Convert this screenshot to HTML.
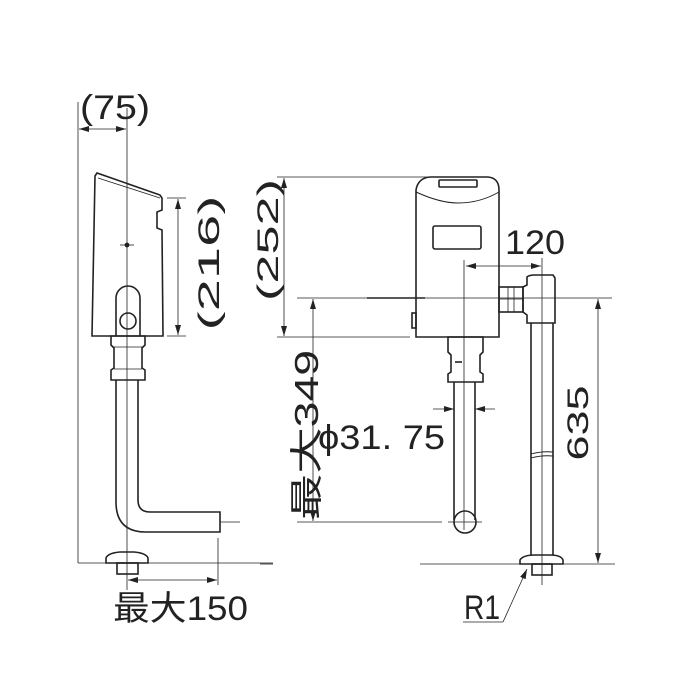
<!DOCTYPE html>
<html><head><meta charset="utf-8"><style>
html,body{margin:0;padding:0;background:#fff}
svg{display:block}
text{font-family:"Liberation Sans","Noto Sans CJK JP",sans-serif;fill:#222}
</style></head><body>
<svg width="700" height="700" viewBox="0 0 700 700" xmlns="http://www.w3.org/2000/svg">
<defs>
<marker id="a" viewBox="0 0 10 6" refX="10" refY="3" markerWidth="10" markerHeight="6" orient="auto-start-reverse" markerUnits="userSpaceOnUse"><path d="M0,0L10,3L0,6z" fill="#222"/></marker>
</defs>
<g stroke="#222" fill="none" stroke-width="0.8">
<line x1="78" y1="102" x2="78" y2="563"/>
<line x1="78" y1="563" x2="273" y2="563"/>
<line x1="127" y1="108" x2="127" y2="590"/>
<line x1="79" y1="129" x2="126" y2="129" marker-start="url(#a)" marker-end="url(#a)"/>
<g stroke-width="1.6">
<path d="M95,176 L97,173 L160,195 L162,198 L162,210 L157,212 L157,228 L162,230 L163,336 L92,336 Z"/>
<path d="M98,178 L160,198" stroke-width="0.8"/>
<path d="M116,336 L116,298 A12,12 0 0 1 140,298 L140,336"/>
<circle cx="128" cy="321" r="8"/>
<path d="M111,336 L145,336 L145,345 L142,348 L142,368 L145,370 L145,380 L111,380 L111,370 L114,368 L114,348 L111,345 Z"/>
<path d="M116,380 L116,502 Q116,532 146,532 L220,532 L220,512 L150,512 Q138,512 138,500 L138,380"/>
<path d="M106,563 L106,558 Q108,553 120,552 L134,552 Q146,553 148,558 L148,563 Z"/>
<rect x="117" y="563" width="21" height="11"/>
</g>
<line x1="114" y1="347" x2="142" y2="347"/>
<line x1="114" y1="369" x2="142" y2="369"/>
<circle cx="127" cy="245" r="2" fill="#222"/>
<line x1="120" y1="245" x2="134" y2="245"/>
<line x1="220" y1="522" x2="240" y2="522"/>
<line x1="167" y1="198" x2="186" y2="198"/>
<line x1="167" y1="336" x2="186" y2="336"/>
<line x1="178" y1="199" x2="178" y2="335" marker-start="url(#a)" marker-end="url(#a)"/>
<line x1="218" y1="538" x2="218" y2="585"/>
<line x1="128" y1="580" x2="217" y2="580" marker-start="url(#a)" marker-end="url(#a)"/>

<line x1="277" y1="177" x2="432" y2="177"/>
<line x1="277" y1="337" x2="410" y2="337"/>
<line x1="284" y1="178" x2="284" y2="336" marker-start="url(#a)" marker-end="url(#a)"/>
<line x1="297" y1="298" x2="612" y2="298"/>
<line x1="367" y1="298" x2="425" y2="298" stroke-width="1.6"/>
<line x1="313" y1="299" x2="313" y2="521" marker-start="url(#a)" marker-end="url(#a)"/>
<line x1="297" y1="522" x2="442" y2="522"/>
<line x1="448" y1="522" x2="482" y2="522"/>
<line x1="464" y1="260" x2="464" y2="530"/>
<line x1="542" y1="258" x2="542" y2="585"/>
<line x1="466" y1="266" x2="541" y2="266" marker-start="url(#a)" marker-end="url(#a)"/>
<line x1="433" y1="409" x2="454" y2="409" marker-end="url(#a)"/>
<line x1="495" y1="409" x2="475" y2="409" marker-end="url(#a)"/>
<line x1="598" y1="299" x2="598" y2="563" marker-start="url(#a)" marker-end="url(#a)"/>
<line x1="420" y1="564" x2="615" y2="564"/>
<line x1="260" y1="564" x2="273" y2="564"/>
<line x1="503" y1="622" x2="527" y2="569" marker-end="url(#a)"/>
<line x1="463" y1="622" x2="503" y2="622"/>
<g stroke-width="1.6">
<path d="M416,337 L416,190 Q418,178 430,177 L488,177 Q499,178 499,190 L499,337 Z"/>
<path d="M416,192 Q440,203 458,203 Q480,203 499,192" stroke-width="1"/>
<rect x="439" y="180" width="38" height="7" rx="1"/>
<rect x="433" y="226" width="48" height="23" rx="2"/>
<rect x="412" y="313" width="4" height="15"/>
<path d="M448,337 L483,337 L483,352 L480,355 L480,372 L483,374 L483,382 L448,382 L448,374 L451,372 L451,355 L448,352 Z"/>
<path d="M454,382 L454,520 M475,382 L475,520"/>
<circle cx="465" cy="522" r="11"/>
<rect x="499" y="287" width="24" height="25"/>
<path d="M527,285 L527,277 Q529,275 535,275 L553,275 L555,278 L555,323 L527,323 L527,315 L523,312 L523,287 Z"/>
<path d="M531,323 L531,555 M553,323 L553,555"/>
<path d="M520,564 L520,560 Q523,555 535,555 L550,555 Q561,555 563,560 L563,564 Z"/>
<rect x="532" y="564" width="20" height="11"/>
</g>
<path d="M531,454 Q542,451 553,452 M531,458 Q542,455 553,456" stroke-width="0.9"/>
<line x1="455" y1="362" x2="462" y2="362" stroke-width="1.6"/>
<line x1="508" y1="287" x2="508" y2="312"/>
<line x1="514" y1="287" x2="514" y2="312"/>
<line x1="499" y1="299" x2="523" y2="299"/>
</g>
<g font-size="34">
<text x="80" y="119" textLength="70" lengthAdjust="spacingAndGlyphs">(75)</text>
<text transform="translate(219,263) rotate(-90)" font-size="30" text-anchor="middle" textLength="135" lengthAdjust="spacingAndGlyphs">(216)</text>
<text x="113" y="620" textLength="135" lengthAdjust="spacingAndGlyphs">最大150</text>
<text transform="translate(278,240) rotate(-90)" font-size="30" text-anchor="middle" textLength="122" lengthAdjust="spacingAndGlyphs">(252)</text>
<text transform="translate(318,435) rotate(-90)" font-size="33" text-anchor="middle" textLength="170" lengthAdjust="spacingAndGlyphs">最大349</text>
<text x="318" y="449" textLength="127" lengthAdjust="spacingAndGlyphs">ϕ31. 75</text>
<text x="505" y="254" textLength="60" lengthAdjust="spacingAndGlyphs">120</text>
<text transform="translate(588,423) rotate(-90)" font-size="30" text-anchor="middle" textLength="75" lengthAdjust="spacingAndGlyphs">635</text>
<text x="464" y="619" textLength="36" lengthAdjust="spacingAndGlyphs">R1</text>
</g>
</svg>
</body></html>
